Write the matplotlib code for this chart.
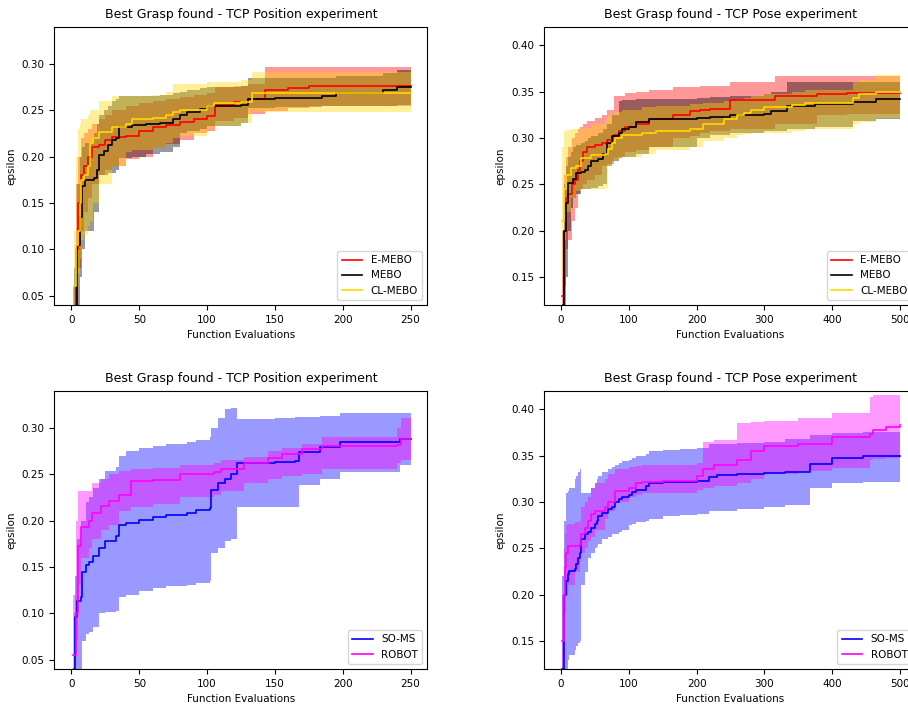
import matplotlib
matplotlib.use("Agg")
import matplotlib.pyplot as plt

# ---- top left: TCP Position, MEBO variants ----
pos_emebo_x = [1, 3, 5, 7, 9, 12, 15, 20, 25, 30, 40, 50, 60, 70, 80, 90, 100, 106, 120, 130, 143, 160, 175, 200, 250]
pos_emebo_mean = [0.03, 0.10, 0.15, 0.18, 0.19, 0.20, 0.21, 0.212, 0.218, 0.221, 0.222, 0.227, 0.232, 0.234, 0.237, 0.240, 0.244, 0.256, 0.259, 0.262, 0.272, 0.274, 0.276, 0.276, 0.276]
pos_emebo_hi = [0.06, 0.17, 0.20, 0.22, 0.225, 0.23, 0.235, 0.24, 0.245, 0.25, 0.255, 0.258, 0.26, 0.262, 0.264, 0.266, 0.268, 0.275, 0.276, 0.278, 0.296, 0.296, 0.297, 0.297, 0.297]
pos_emebo_lo = [0.0, 0.04, 0.08, 0.12, 0.14, 0.155, 0.17, 0.18, 0.185, 0.19, 0.197, 0.20, 0.21, 0.213, 0.218, 0.225, 0.228, 0.238, 0.242, 0.246, 0.249, 0.252, 0.255, 0.255, 0.255]

pos_mebo_x = [2, 4, 6, 8, 10, 17, 19, 20, 24, 27, 30, 33, 35, 45, 55, 65, 75, 80, 85, 95, 100, 125, 130, 150, 185, 195, 230, 240, 250]
pos_mebo_mean = [0.03, 0.105, 0.135, 0.168, 0.175, 0.177, 0.185, 0.202, 0.206, 0.212, 0.218, 0.22, 0.232, 0.234, 0.235, 0.236, 0.24, 0.245, 0.248, 0.251, 0.254, 0.256, 0.262, 0.263, 0.265, 0.268, 0.272, 0.275, 0.275]
pos_mebo_hi = [0.08, 0.17, 0.2, 0.21, 0.215, 0.225, 0.235, 0.245, 0.25, 0.255, 0.26, 0.262, 0.265, 0.265, 0.265, 0.266, 0.268, 0.27, 0.272, 0.274, 0.275, 0.276, 0.285, 0.285, 0.285, 0.287, 0.29, 0.293, 0.293]
pos_mebo_lo = [0.0, 0.04, 0.07, 0.1, 0.12, 0.14, 0.14, 0.18, 0.18, 0.182, 0.182, 0.185, 0.198, 0.2, 0.203, 0.205, 0.21, 0.225, 0.228, 0.23, 0.233, 0.236, 0.252, 0.253, 0.254, 0.255, 0.255, 0.256, 0.256]

pos_cl_x = [2, 3, 5, 6, 7, 9, 12, 14, 16, 20, 30, 40, 45, 60, 70, 75, 80, 100, 105, 125, 133, 250]
pos_cl_mean = [0.06, 0.105, 0.12, 0.15, 0.175, 0.18, 0.19, 0.215, 0.22, 0.226, 0.232, 0.235, 0.24, 0.242, 0.245, 0.248, 0.25, 0.255, 0.258, 0.259, 0.269, 0.269]
pos_cl_hi = [0.12, 0.2, 0.23, 0.235, 0.24, 0.24, 0.245, 0.25, 0.25, 0.26, 0.265, 0.265, 0.265, 0.266, 0.27, 0.278, 0.278, 0.28, 0.28, 0.283, 0.291, 0.291]
pos_cl_lo = [0.0, 0.05, 0.075, 0.09, 0.11, 0.115, 0.125, 0.13, 0.15, 0.17, 0.19, 0.205, 0.207, 0.21, 0.215, 0.22, 0.222, 0.23, 0.233, 0.236, 0.248, 0.248]

# ---- top right: TCP Pose, MEBO variants ----
pose_emebo_x = [2, 5, 8, 10, 17, 20, 25, 28, 32, 38, 50, 60, 68, 78, 85, 95, 110, 130, 165, 190, 205, 220, 250, 316, 377, 422, 500]
pose_emebo_mean = [0.13, 0.2, 0.235, 0.24, 0.25, 0.255, 0.265, 0.275, 0.285, 0.29, 0.292, 0.295, 0.298, 0.303, 0.308, 0.312, 0.315, 0.32, 0.325, 0.329, 0.33, 0.331, 0.341, 0.345, 0.347, 0.348, 0.348]
pose_emebo_hi = [0.2, 0.26, 0.28, 0.29, 0.3, 0.305, 0.31, 0.312, 0.315, 0.318, 0.322, 0.325, 0.33, 0.345, 0.345, 0.348, 0.35, 0.352, 0.355, 0.355, 0.356, 0.356, 0.36, 0.367, 0.367, 0.367, 0.367]
pose_emebo_lo = [0.05, 0.14, 0.18, 0.19, 0.21, 0.225, 0.24, 0.245, 0.25, 0.255, 0.26, 0.27, 0.272, 0.278, 0.28, 0.285, 0.287, 0.29, 0.3, 0.302, 0.305, 0.307, 0.31, 0.315, 0.325, 0.326, 0.327]

pose_mebo_x = [3, 5, 7, 10, 15, 18, 22, 30, 35, 40, 45, 55, 62, 68, 75, 85, 90, 100, 110, 130, 200, 220, 250, 300, 310, 333, 375, 430, 465, 500]
pose_mebo_mean = [0.12, 0.2, 0.23, 0.251, 0.252, 0.256, 0.262, 0.263, 0.265, 0.27, 0.275, 0.277, 0.283, 0.295, 0.302, 0.305, 0.31, 0.312, 0.317, 0.32, 0.322, 0.323, 0.325, 0.326, 0.329, 0.335, 0.337, 0.339, 0.342, 0.342]
pose_mebo_hi = [0.2, 0.25, 0.27, 0.28, 0.285, 0.29, 0.292, 0.295, 0.297, 0.3, 0.302, 0.305, 0.31, 0.315, 0.325, 0.34, 0.341, 0.341, 0.342, 0.342, 0.343, 0.344, 0.345, 0.347, 0.35, 0.36, 0.36, 0.36, 0.36, 0.36]
pose_mebo_lo = [0.05, 0.1, 0.15, 0.2, 0.225, 0.235, 0.24, 0.245, 0.245, 0.245, 0.246, 0.248, 0.25, 0.27, 0.275, 0.278, 0.28, 0.28, 0.283, 0.29, 0.3, 0.303, 0.305, 0.307, 0.308, 0.31, 0.312, 0.318, 0.321, 0.322]

pose_cl_x = [2, 4, 8, 15, 22, 30, 45, 65, 70, 75, 80, 90, 120, 140, 190, 210, 240, 260, 270, 280, 300, 340, 360, 430, 440, 465, 500]
pose_cl_mean = [0.21, 0.245, 0.26, 0.268, 0.27, 0.278, 0.282, 0.283, 0.288, 0.295, 0.3, 0.303, 0.305, 0.308, 0.31, 0.315, 0.32, 0.325, 0.327, 0.33, 0.333, 0.336, 0.338, 0.343, 0.347, 0.35, 0.35]
pose_cl_hi = [0.29, 0.308, 0.309, 0.31, 0.31, 0.311, 0.315, 0.322, 0.325, 0.326, 0.328, 0.33, 0.333, 0.335, 0.337, 0.338, 0.34, 0.342, 0.343, 0.345, 0.347, 0.35, 0.352, 0.36, 0.363, 0.368, 0.37]
pose_cl_lo = [0.15, 0.19, 0.22, 0.235, 0.243, 0.245, 0.245, 0.246, 0.27, 0.275, 0.277, 0.28, 0.283, 0.287, 0.29, 0.297, 0.3, 0.303, 0.304, 0.305, 0.305, 0.307, 0.31, 0.315, 0.317, 0.322, 0.325]

# ---- bottom left: TCP Position, SO-MS vs ROBOT ----
pos_soms_x = [2, 2.5, 4, 7, 8, 11, 13, 16, 20, 25, 33, 35, 40, 50, 60, 70, 85, 92, 102, 103, 108, 113, 118, 122, 150, 165, 168, 183, 198, 242, 250]
pos_soms_mean = [0.04, 0.096, 0.113, 0.118, 0.145, 0.152, 0.155, 0.162, 0.17, 0.178, 0.183, 0.195, 0.197, 0.201, 0.204, 0.206, 0.208, 0.211, 0.213, 0.233, 0.24, 0.245, 0.25, 0.262, 0.263, 0.264, 0.274, 0.279, 0.285, 0.288, 0.288]
pos_soms_hi = [0.1, 0.14, 0.18, 0.2, 0.2, 0.22, 0.225, 0.235, 0.245, 0.253, 0.258, 0.27, 0.275, 0.278, 0.28, 0.282, 0.285, 0.287, 0.29, 0.3, 0.31, 0.32, 0.321, 0.309, 0.31, 0.312, 0.312, 0.313, 0.316, 0.316, 0.316]
pos_soms_lo = [0.0, 0.02, 0.03, 0.04, 0.07, 0.078, 0.08, 0.085, 0.1, 0.101, 0.102, 0.118, 0.12, 0.124, 0.127, 0.129, 0.131, 0.133, 0.135, 0.165, 0.17, 0.178, 0.18, 0.215, 0.215, 0.215, 0.238, 0.245, 0.252, 0.26, 0.26]

pos_robot_x = [1, 3, 5, 7, 13, 15, 22, 28, 35, 44, 60, 80, 105, 110, 127, 145, 155, 170, 185, 240, 243, 250]
pos_robot_mean = [0.055, 0.1, 0.172, 0.193, 0.2, 0.208, 0.216, 0.221, 0.228, 0.243, 0.244, 0.25, 0.252, 0.255, 0.262, 0.267, 0.272, 0.277, 0.28, 0.281, 0.288, 0.288]
pos_robot_hi = [0.12, 0.2, 0.232, 0.232, 0.232, 0.24, 0.245, 0.25, 0.253, 0.255, 0.257, 0.26, 0.262, 0.265, 0.268, 0.275, 0.278, 0.282, 0.29, 0.3, 0.31, 0.31]
pos_robot_lo = [0.0, 0.07, 0.13, 0.16, 0.17, 0.18, 0.19, 0.195, 0.21, 0.215, 0.218, 0.225, 0.228, 0.232, 0.24, 0.245, 0.248, 0.25, 0.255, 0.262, 0.265, 0.265]

# ---- bottom right: TCP Pose, SO-MS vs ROBOT ----
pose_soms_x = [2, 4, 5, 8, 10, 12, 20, 22, 25, 28, 30, 35, 40, 45, 50, 53, 55, 60, 70, 75, 80, 85, 90, 100, 105, 110, 125, 130, 150, 175, 200, 218, 230, 260, 300, 330, 367, 400, 445, 500]
pose_soms_mean = [0.12, 0.17, 0.2, 0.215, 0.222, 0.226, 0.228, 0.233, 0.24, 0.245, 0.26, 0.265, 0.268, 0.272, 0.276, 0.28, 0.285, 0.288, 0.292, 0.295, 0.3, 0.303, 0.305, 0.307, 0.311, 0.313, 0.317, 0.32, 0.321, 0.322, 0.323, 0.327, 0.329, 0.33, 0.331, 0.332, 0.341, 0.347, 0.349, 0.349]
pose_soms_hi = [0.22, 0.26, 0.28, 0.31, 0.312, 0.315, 0.325, 0.328, 0.332, 0.335, 0.31, 0.31, 0.31, 0.315, 0.32, 0.325, 0.328, 0.332, 0.335, 0.338, 0.34, 0.342, 0.344, 0.345, 0.347, 0.35, 0.352, 0.355, 0.356, 0.357, 0.358, 0.362, 0.363, 0.364, 0.365, 0.368, 0.372, 0.374, 0.375, 0.375]
pose_soms_lo = [0.05, 0.08, 0.1, 0.12, 0.13, 0.135, 0.14, 0.145, 0.148, 0.15, 0.21, 0.225, 0.24, 0.245, 0.25, 0.252, 0.255, 0.26, 0.262, 0.265, 0.265, 0.268, 0.27, 0.275, 0.276, 0.278, 0.28, 0.282, 0.285, 0.286, 0.287, 0.29, 0.29, 0.292, 0.295, 0.297, 0.315, 0.32, 0.322, 0.325]

pose_robot_x = [2, 4, 6, 8, 10, 20, 28, 30, 35, 40, 45, 50, 65, 70, 80, 100, 110, 120, 150, 200, 210, 225, 260, 280, 300, 350, 400, 455, 460, 480, 500]
pose_robot_mean = [0.15, 0.2, 0.23, 0.245, 0.252, 0.253, 0.255, 0.265, 0.272, 0.28, 0.287, 0.29, 0.295, 0.3, 0.312, 0.315, 0.32, 0.322, 0.323, 0.328, 0.335, 0.34, 0.345, 0.355, 0.36, 0.363, 0.37, 0.373, 0.378, 0.381, 0.383]
pose_robot_hi = [0.2, 0.25, 0.265, 0.275, 0.276, 0.278, 0.28, 0.295, 0.3, 0.305, 0.315, 0.32, 0.325, 0.33, 0.335, 0.338, 0.339, 0.34, 0.34, 0.342, 0.365, 0.367, 0.385, 0.386, 0.387, 0.39, 0.396, 0.413, 0.415, 0.415, 0.415]
pose_robot_lo = [0.1, 0.15, 0.18, 0.2, 0.21, 0.225, 0.235, 0.245, 0.25, 0.258, 0.262, 0.27, 0.282, 0.29, 0.3, 0.305, 0.308, 0.31, 0.31, 0.313, 0.315, 0.317, 0.32, 0.325, 0.33, 0.333, 0.337, 0.345, 0.346, 0.347, 0.347]


def draw(ax, x, mean, lo, hi, color, label):
    ax.fill_between(x, lo, hi, step="post", color=color, alpha=0.4, linewidth=0)
    ax.plot(x, mean, drawstyle="steps-post", color=color, lw=1.2, label=label)


fig = plt.figure(figsize=(9.08, 7.07), dpi=100)
# right column runs a little past the edge, like the cropped original
ax1 = fig.add_axes([0.060, 0.5686, 0.4108, 0.3937])
ax2 = fig.add_axes([0.5991, 0.5686, 0.4108, 0.3937])
ax3 = fig.add_axes([0.060, 0.0538, 0.4108, 0.3937])
ax4 = fig.add_axes([0.5991, 0.0538, 0.4108, 0.3937])

draw(ax1, pos_emebo_x, pos_emebo_mean, pos_emebo_lo, pos_emebo_hi, "red", "E-MEBO")
draw(ax1, pos_mebo_x, pos_mebo_mean, pos_mebo_lo, pos_mebo_hi, "black", "MEBO")
draw(ax1, pos_cl_x, pos_cl_mean, pos_cl_lo, pos_cl_hi, "gold", "CL-MEBO")

draw(ax2, pose_emebo_x, pose_emebo_mean, pose_emebo_lo, pose_emebo_hi, "red", "E-MEBO")
draw(ax2, pose_mebo_x, pose_mebo_mean, pose_mebo_lo, pose_mebo_hi, "black", "MEBO")
draw(ax2, pose_cl_x, pose_cl_mean, pose_cl_lo, pose_cl_hi, "gold", "CL-MEBO")

draw(ax3, pos_soms_x, pos_soms_mean, pos_soms_lo, pos_soms_hi, "blue", "SO-MS")
draw(ax3, pos_robot_x, pos_robot_mean, pos_robot_lo, pos_robot_hi, "magenta", "ROBOT")

draw(ax4, pose_soms_x, pose_soms_mean, pose_soms_lo, pose_soms_hi, "blue", "SO-MS")
draw(ax4, pose_robot_x, pose_robot_mean, pose_robot_lo, pose_robot_hi, "magenta", "ROBOT")

for ax, title, ylim, xmax in [(ax1, "Best Grasp found - TCP Position experiment", (0.04, 0.34), 250),
                              (ax2, "Best Grasp found - TCP Pose experiment", (0.12, 0.42), 500),
                              (ax3, "Best Grasp found - TCP Position experiment", (0.04, 0.34), 250),
                              (ax4, "Best Grasp found - TCP Pose experiment", (0.12, 0.42), 500)]:
    ax.set_title(title, fontsize=9)
    ax.set_xlabel("Function Evaluations", fontsize=7.5)
    ax.set_ylabel("epsilon", fontsize=7.5)
    ax.set_ylim(*ylim)
    ax.set_xlim(-0.05 * xmax, 1.05 * xmax)
    ax.tick_params(labelsize=7.5)
    ax.legend(loc="lower right", fontsize=7.5)

fig.savefig("out.png", dpi=100)
